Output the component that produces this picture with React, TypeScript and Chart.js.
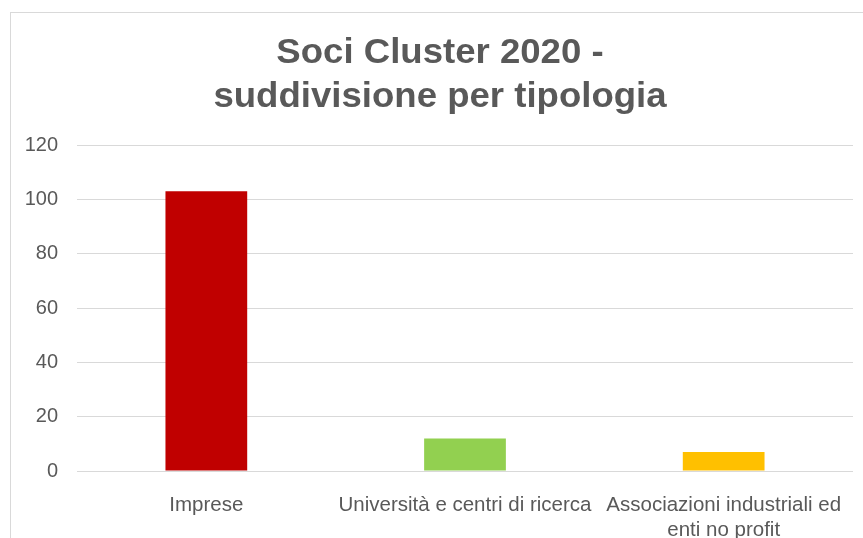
import React, { useEffect, useRef } from "react";
import { Chart, registerables } from "chart.js";

Chart.register(...registerables);

const categories: (string | string[])[] = [
  "Imprese",
  "Università e centri di ricerca",
  ["Associazioni industriali ed", "enti no profit"],
];
const values = [103, 12, 7];
const barColors = ["#C00000", "#92D050", "#FFC000"];
const titleLines = ["Soci Cluster 2020 -", "suddivisione per tipologia"];
const yMin = 0;
const yMax = 120;
const yStep = 20;

const FONT = '"Liberation Sans", Arial, Helvetica, sans-serif';
const TEXT = "#595959";

const titlePlugin = {
  id: "customTitle",
  afterDraw(chart: any) {
    const ctx = chart.ctx as CanvasRenderingContext2D;
    ctx.save();
    ctx.font = `bold 35px ${FONT}`;
    ctx.fillStyle = TEXT;
    ctx.textAlign = "center";
    ctx.textBaseline = "alphabetic";
    ctx.translate(440, 0);
    ctx.scale(1.045, 1);
    titleLines.forEach((line, i) => ctx.fillText(line, 0, 63 + i * 44));
    ctx.restore();
  },
};

export default function App() {
  const ref = useRef<HTMLCanvasElement | null>(null);

  useEffect(() => {
    if (!ref.current) return;
    const chart = new Chart(ref.current, {
      type: "bar",
      data: {
        labels: categories as any,
        datasets: [
          {
            data: values,
            backgroundColor: barColors,
            borderWidth: 0,
            barPercentage: 0.316,
            categoryPercentage: 1,
          },
        ],
      },
      options: {
        responsive: true,
        maintainAspectRatio: false,
        animation: false,
        layout: { padding: { top: 145, right: 10, left: 0, bottom: 0 } },
        plugins: {
          legend: { display: false },
          title: { display: false },
          tooltip: { enabled: false },
        },
        scales: {
          x: {
            grid: { display: false },
            border: { display: false },
            ticks: {
              color: TEXT,
              font: { family: FONT, size: 20.5 },
              padding: 14,
              maxRotation: 0,
              autoSkip: false,
            },
            afterFit: (s: any) => {
              s.height = 67;
            },
          },
          y: {
            min: yMin,
            max: yMax,
            ticks: {
              stepSize: yStep,
              color: TEXT,
              font: { family: FONT, size: 20 },
              padding: 19,
            },
            grid: { color: "#D9D9D9", drawTicks: false, lineWidth: 1 },
            border: { display: false },
            afterFit: (s: any) => {
              s.width = 77;
            },
          },
        },
      },
      plugins: [titlePlugin],
    });
    return () => chart.destroy();
  }, []);

  return (
    <div
      style={{
        position: "fixed",
        left: 0,
        top: 0,
        width: 863,
        height: 538,
        overflow: "hidden",
        background: "#ffffff",
      }}
    >
      <div
        style={{
          position: "absolute",
          left: 10,
          top: 12,
          width: 900,
          height: 600,
          border: "1px solid #D9D9D9",
          boxSizing: "border-box",
        }}
      />
      <div style={{ position: "absolute", left: 0, top: 0, width: 863, height: 538 }}>
        <canvas ref={ref} />
      </div>
    </div>
  );
}
